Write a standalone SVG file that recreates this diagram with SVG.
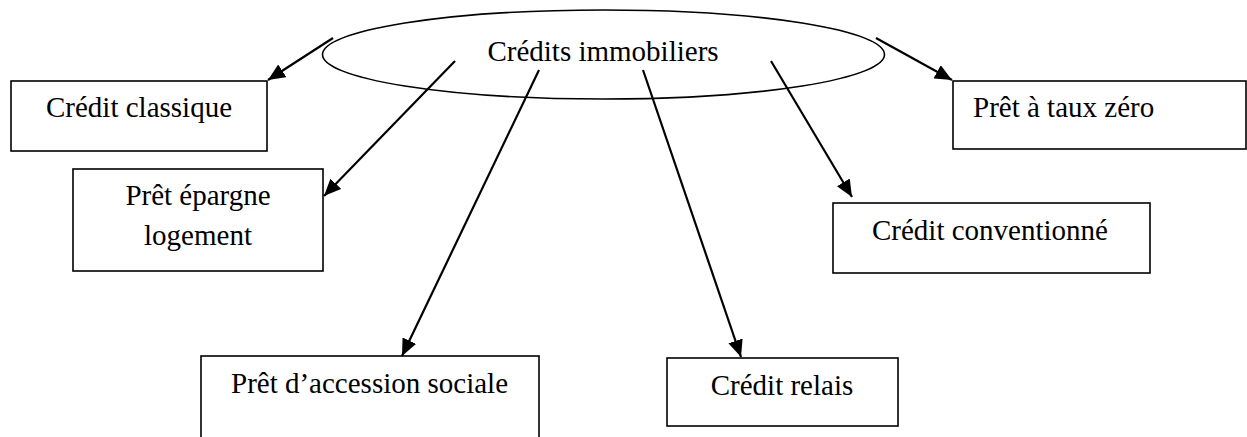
<svg xmlns="http://www.w3.org/2000/svg" width="1247" height="437" viewBox="0 0 1247 437">
<style>
.box{fill:#fff;stroke:#000;stroke-width:1.6}
.t{font-family:"Liberation Serif","Times New Roman",serif;font-size:29px;fill:#000}
.c{stroke:#000;stroke-width:2.2;fill:none}
</style>
<defs>
<marker id="ah" markerUnits="userSpaceOnUse" markerWidth="17" markerHeight="15" viewBox="0 0 17 15" refX="17" refY="7.5" orient="auto">
<path d="M0,0 L17,7.5 L0,15 Z" fill="#000"/>
</marker>
</defs>
<rect width="1247" height="437" fill="#fff"/>
<g id="center">
<ellipse cx="603.5" cy="54.5" rx="281" ry="44.5" fill="none" stroke="#000" stroke-width="1.6"/>
<text class="t" x="603" y="61" text-anchor="middle">Crédits immobiliers</text>
</g>
<g id="credit-classique">
<rect class="box" x="11" y="81" width="256" height="70"/>
<text class="t" x="139" y="117" text-anchor="middle">Crédit classique</text>
</g>
<g id="pret-epargne">
<rect class="box" x="73" y="169" width="250" height="102"/>
<text class="t" x="198" y="205" text-anchor="middle">Prêt épargne</text>
<text class="t" x="198" y="245" text-anchor="middle">logement</text>
</g>
<g id="pret-accession">
<rect class="box" x="201" y="356" width="338" height="100"/>
<text class="t" x="231" y="393">Prêt d’accession sociale</text>
</g>
<g id="credit-relais">
<rect class="box" x="667" y="358" width="231" height="68"/>
<text class="t" x="782" y="395" text-anchor="middle">Crédit relais</text>
</g>
<g id="credit-conventionne">
<rect class="box" x="833" y="203" width="317" height="70"/>
<text class="t" x="872" y="240">Crédit conventionné</text>
</g>
<g id="pret-taux-zero">
<rect class="box" x="953" y="81" width="293" height="68"/>
<text class="t" x="973" y="117">Prêt à taux zéro</text>
</g>
<g id="connectors">
<line class="c" x1="333" y1="38" x2="268" y2="80" marker-end="url(#ah)"/>
<line class="c" x1="455" y1="61" x2="324" y2="196" marker-end="url(#ah)"/>
<line class="c" x1="539" y1="70" x2="402" y2="356" marker-end="url(#ah)"/>
<line class="c" x1="643" y1="70" x2="741" y2="357" marker-end="url(#ah)"/>
<line class="c" x1="771" y1="61" x2="852" y2="197" marker-end="url(#ah)"/>
<line class="c" x1="876" y1="38" x2="952" y2="80" marker-end="url(#ah)"/>
</g>
</svg>
